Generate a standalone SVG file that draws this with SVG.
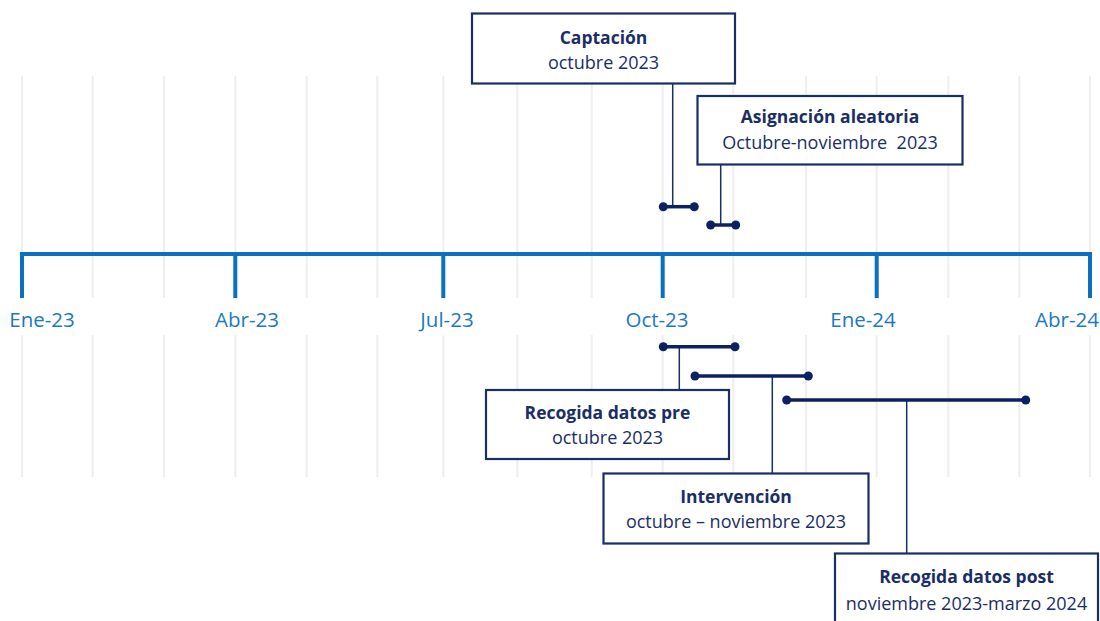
<svg xmlns="http://www.w3.org/2000/svg" width="1100" height="621" viewBox="0 0 1100 621">
<defs>
<style>
.grid{stroke:#eeeeee;stroke-width:2;fill:none}
.axis{stroke:#0A70C0;stroke-width:4;fill:none;stroke-linecap:square}
.tick{stroke:#0A70C0;stroke-width:4;fill:none}
.axl{font-family:"Open Sans","Liberation Sans",sans-serif;font-size:20.5px;fill:#1B78C4;text-anchor:middle}
.box{fill:#ffffff;stroke:#1A2E66;stroke-width:2.2}
.t{font-family:"Open Sans","Liberation Sans",sans-serif;font-size:17.5px;font-weight:bold;fill:#1A2E66;text-anchor:middle}
.s{font-family:"Open Sans","Liberation Sans",sans-serif;font-size:18px;fill:#1A2E66;text-anchor:middle}
.conn{stroke:#1A2E66;stroke-width:1.5;fill:none}
.bar{stroke:#0B2162;stroke-width:3.5;fill:none}
.dot{fill:#0B2162}
</style>
</defs>
<rect width="1100" height="621" fill="#ffffff"/>
<g id="grid">
<path class="grid" d="M22,76V298M92.7,76V298M164,76V298M235.3,76V298M306.7,76V298M377.3,76V298M443.3,76V298M517.3,76V298M591.7,76V298M662.7,76V298M733.3,76V298M806,76V298M876.7,76V298M948.3,76V298M1019.3,76V298M1090,76V298"/>
<path class="grid" d="M22,335V477M92.7,335V477M164,335V477M235.3,335V477M306.7,335V477M377.3,335V477M443.3,335V477M517.3,335V477M591.7,335V477M662.7,335V477M733.3,335V477M806,335V477M876.7,335V477M948.3,335V477M1019.3,335V477M1090,335V477"/>
</g>
<g id="axis">
<path class="axis" d="M22,254H1090"/>
<path class="tick" d="M22,254V298M235.3,254V298M443.3,254V298M662.7,254V298M876.7,254V298M1090,254V298"/>
<text class="axl" x="42" y="327">Ene-23</text>
<text class="axl" x="247" y="327">Abr-23</text>
<text class="axl" x="447" y="327">Jul-23</text>
<text class="axl" x="657" y="327">Oct-23</text>
<text class="axl" x="863" y="327">Ene-24</text>
<text class="axl" x="1067" y="327">Abr-24</text>
</g>
<g id="connectors">
<path class="conn" d="M672.7,83V207"/>
<path class="conn" d="M720.7,164V225"/>
<path class="conn" d="M679.3,347V390"/>
<path class="conn" d="M772.3,376V473"/>
<path class="conn" d="M906.7,400V553"/>
<path class="bar" d="M663.3,206.7H694.3"/>
<circle class="dot" cx="663.3" cy="206.7" r="4.5"/><circle class="dot" cx="694.3" cy="206.7" r="4.5"/>
<path class="bar" d="M710.7,225H735.7"/>
<circle class="dot" cx="710.7" cy="225" r="4.5"/><circle class="dot" cx="735.7" cy="225" r="4.5"/>
<path class="bar" d="M663.3,346.7H735"/>
<circle class="dot" cx="663.3" cy="346.7" r="4.5"/><circle class="dot" cx="735" cy="346.7" r="4.5"/>
<path class="bar" d="M695,376H808.3"/>
<circle class="dot" cx="695" cy="376" r="4.5"/><circle class="dot" cx="808.3" cy="376" r="4.5"/>
<path class="bar" d="M786.7,400H1025.7"/>
<circle class="dot" cx="786.7" cy="400" r="4.5"/><circle class="dot" cx="1025.7" cy="400" r="4.5"/>
</g>
<g id="captacion">
<rect class="box" x="472" y="13.5" width="263" height="70"/>
<text class="t" x="603.5" y="44">Captación</text>
<text class="s" x="603.5" y="69">octubre 2023</text>
</g>
<g id="asignacion">
<rect class="box" x="697.5" y="96" width="265" height="68.5"/>
<text class="t" x="830" y="123">Asignación aleatoria</text>
<text class="s" x="830" y="149" xml:space="preserve">Octubre-noviembre  2023</text>
</g>
<g id="recogida-pre">
<rect class="box" x="486" y="390" width="243" height="69"/>
<text class="t" x="607.5" y="419">Recogida datos pre</text>
<text class="s" x="607.5" y="444">octubre 2023</text>
</g>
<g id="intervencion">
<rect class="box" x="603.5" y="473.5" width="265" height="70"/>
<text class="t" x="736" y="503">Intervención</text>
<text class="s" x="736" y="528">octubre – noviembre 2023</text>
</g>
<g id="recogida-post">
<rect class="box" x="835" y="553.5" width="263" height="80"/>
<text class="t" x="966.5" y="583">Recogida datos post</text>
<text class="s" x="966.5" y="610">noviembre 2023-marzo 2024</text>
</g>
</svg>
